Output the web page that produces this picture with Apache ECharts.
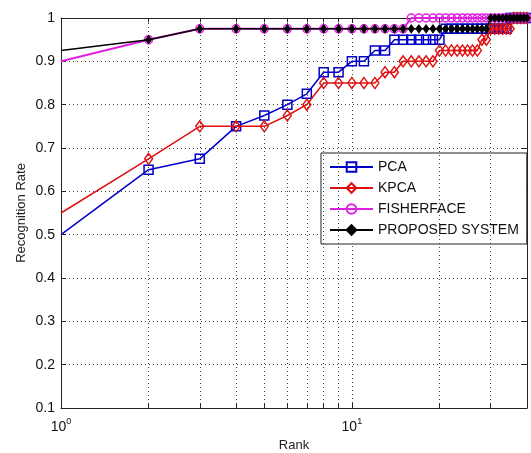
<!DOCTYPE html>
<html>
<head>
<meta charset="utf-8">
<script src="https://cdn.jsdelivr.net/npm/echarts@6/dist/echarts.min.js"></script>
<style>
  html, body { margin: 0; padding: 0; background: #fff; }
  #chart { width: 531px; height: 453px; }
</style>
</head>
<body>
<div id="chart"></div>
<script>
var ranks = [1, 2, 3, 4, 5, 6, 7, 8, 9, 10, 11, 12, 13, 14, 15, 16, 17, 18, 19, 20,
             21, 22, 23, 24, 25, 26, 27, 28, 29, 30, 31, 32, 33, 34, 35, 36, 37, 38, 39, 40];

var pca = [0.5, 0.65, 0.675, 0.75, 0.775, 0.8, 0.825, 0.875, 0.875, 0.9,
           0.9, 0.925, 0.925, 0.95, 0.95, 0.95, 0.95, 0.95, 0.95, 0.95,
           0.975, 0.975, 0.975, 0.975, 0.975, 0.975, 0.975, 0.975, 0.975, 0.975,
           0.975, 0.975, 0.975, 0.975, 1, 1, 1, 1, 1, 1];

var kpca = [0.55, 0.675, 0.75, 0.75, 0.75, 0.775, 0.8, 0.85, 0.85, 0.85,
            0.85, 0.85, 0.875, 0.875, 0.9, 0.9, 0.9, 0.9, 0.9, 0.925,
            0.925, 0.925, 0.925, 0.925, 0.925, 0.925, 0.925, 0.95, 0.95, 0.975,
            0.975, 0.975, 0.975, 0.975, 0.975, 1, 1, 1, 1, 1];

var fisherface = [0.9, 0.95, 0.975, 0.975, 0.975, 0.975, 0.975, 0.975, 0.975, 0.975,
                  0.975, 0.975, 0.975, 0.975, 0.975, 1, 1, 1, 1, 1,
                  1, 1, 1, 1, 1, 1, 1, 1, 1, 1,
                  1, 1, 1, 1, 1, 1, 1, 1, 1, 1];

var proposed = [0.925, 0.95, 0.975, 0.975, 0.975, 0.975, 0.975, 0.975, 0.975, 0.975,
                0.975, 0.975, 0.975, 0.975, 0.975, 0.975, 0.975, 0.975, 0.975, 0.975,
                0.975, 0.975, 0.975, 0.975, 0.975, 0.975, 0.975, 0.975, 0.975, 1,
                1, 1, 1, 1, 1, 1, 1, 1, 1, 1];

var minorGrid = [2, 3, 4, 5, 6, 7, 8, 9, 20, 30];

var FONT = 'Liberation Sans, Arial, sans-serif';
var dotted = { color: '#444', width: 1, type: [1, 3] };

function pairs(vals, hideFirst) {
    return ranks.map(function (r, i) {
        var item = { value: [r, vals[i]] };
        if (hideFirst && i === 0) item.symbol = 'none';
        return item;
    });
}

var myChart = echarts.init(document.getElementById('chart'));

// minor grid lines and the little inside ticks at 2..9, 20, 30
var gridMarks = [];
minorGrid.forEach(function (v) {
    gridMarks.push({ xAxis: v, lineStyle: dotted });
    gridMarks.push([{ coord: [v, 0.1] }, { coord: [v, 0.11] }]);
    gridMarks.push([{ coord: [v, 0.99] }, { coord: [v, 1] }]);
});

var option = {
    animation: false,
    backgroundColor: '#fff',
    textStyle: { fontFamily: FONT },
    grid: { left: 61, top: 18, right: 4, bottom: 45, outerBoundsMode: 'none', containLabel: false },
    legend: {
        data: ['PCA', 'KPCA', 'FISHERFACE', 'PROPOSED SYSTEM'],
        orient: 'vertical',
        left: 321,
        top: 153,
        backgroundColor: '#fff',
        borderColor: '#222',
        borderWidth: 1,
        padding: [7, 8, 7, 8],
        itemGap: 7,
        itemWidth: 43,
        itemHeight: 12,
        textStyle: { fontFamily: FONT, fontSize: 14, color: '#111', lineHeight: 14 }
    },
    xAxis: [{
        type: 'log',
        logBase: 10,
        min: 1,
        max: 40,
        position: 'bottom',
        name: 'Rank',
        nameLocation: 'middle',
        nameGap: 31,
        nameMoveOverlap: false,
        nameTextStyle: { fontSize: 13, color: '#222', fontFamily: FONT },
        axisLine: { show: true, lineStyle: { color: '#222', width: 1 } },
        axisTick: { show: true, inside: true, length: 5, lineStyle: { color: '#222' } },
        axisLabel: {
            margin: 9,
            color: '#111',
            formatter: function (v) {
                var e = Math.log(v) / Math.LN10;
                if (Math.abs(e - Math.round(e)) > 1e-6) return '';
                return '{b|10}{s|' + Math.round(e) + '}';
            },
            rich: {
                b: { fontSize: 14, fontFamily: FONT, color: '#111' },
                s: { fontSize: 9, fontFamily: FONT, color: '#111', padding: [0, 0, 12, 0] }
            }
        },
        splitLine: { show: true, lineStyle: dotted }
    }, {
        type: 'log',
        logBase: 10,
        min: 1,
        max: 40,
        position: 'top',
        axisLine: { show: true, lineStyle: { color: '#222', width: 1 } },
        axisTick: { show: true, inside: true, length: 5, lineStyle: { color: '#222' } },
        axisLabel: { show: false },
        splitLine: { show: false }
    }],
    yAxis: [{
        type: 'value',
        min: 0.1,
        max: 1,
        interval: 0.1,
        position: 'left',
        name: 'Recognition Rate',
        nameLocation: 'middle',
        nameGap: 33,
        nameMoveOverlap: false,
        nameTextStyle: { fontSize: 13, color: '#222', fontFamily: FONT },
        axisLine: { show: true, lineStyle: { color: '#222', width: 1 } },
        axisTick: { show: true, inside: true, length: 5, lineStyle: { color: '#222' } },
        axisLabel: {
            margin: 6,
            fontSize: 14,
            color: '#111',
            formatter: function (v) { return String(+v.toFixed(1)); }
        },
        splitLine: { show: true, lineStyle: dotted }
    }, {
        type: 'value',
        min: 0.1,
        max: 1,
        interval: 0.1,
        position: 'right',
        axisLine: { show: true, lineStyle: { color: '#222', width: 1 } },
        axisTick: { show: true, inside: true, length: 5, lineStyle: { color: '#222' } },
        axisLabel: { show: false },
        splitLine: { show: false }
    }],
    series: [{
        name: 'grid',
        type: 'line',
        data: [],
        silent: true,
        z: 1,
        markLine: {
            silent: true,
            symbol: 'none',
            label: { show: false },
            animation: false,
            lineStyle: { color: '#222', width: 1, type: 'solid' },
            data: gridMarks
        }
    }, {
        name: 'PCA',
        type: 'line',
        data: pairs(pca, true),
        symbol: 'rect',
        symbolSize: 9,
        z: 2,
        lineStyle: { color: '#0000c8', width: 1.5 },
        itemStyle: { color: 'rgba(0,0,0,0)', borderColor: '#0000c8', borderWidth: 1.5 }
    }, {
        name: 'KPCA',
        type: 'line',
        data: pairs(kpca, true),
        symbol: 'diamond',
        symbolSize: [8, 11],
        z: 3,
        lineStyle: { color: '#e01010', width: 1.5 },
        itemStyle: { color: 'rgba(0,0,0,0)', borderColor: '#e01010', borderWidth: 1.5 }
    }, {
        name: 'FISHERFACE',
        type: 'line',
        data: pairs(fisherface, true),
        symbol: 'circle',
        symbolSize: 8,
        z: 4,
        lineStyle: { color: '#e020e0', width: 2 },
        itemStyle: { color: 'rgba(0,0,0,0)', borderColor: '#e020e0', borderWidth: 1.5 }
    }, {
        name: 'PROPOSED SYSTEM',
        type: 'line',
        data: pairs(proposed, true),
        symbol: 'diamond',
        symbolSize: [6, 8],
        z: 5,
        lineStyle: { color: '#000', width: 1.5 },
        itemStyle: { color: '#000', borderColor: '#000', borderWidth: 1 }
    }]
};

myChart.setOption(option);
window.addEventListener('resize', function () {
    myChart.resize();
});
</script>
</body>
</html>
